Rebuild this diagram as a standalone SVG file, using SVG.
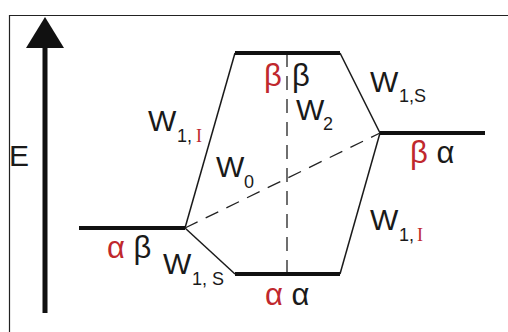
<svg xmlns="http://www.w3.org/2000/svg" width="508" height="332" viewBox="0 0 508 332">
<style>
text{font-family:"Liberation Sans",Arial,sans-serif;fill:#1a1a1a}
.big{font-size:30px}
.sub{font-size:18px}
.gr{font-size:31px}
.red{fill:#c0282d}
.roman{font-family:"Liberation Serif","Times New Roman",serif;font-size:18px;fill:#c0282d}
.level{stroke:#111;stroke-width:4;fill:none}
.thin{stroke:#1a1a1a;stroke-width:1.5;fill:none}
.dash{stroke:#222;stroke-width:1.3;fill:none;stroke-dasharray:14 9}
</style>
<rect width="508" height="332" fill="#fff"/>
<path d="M9.5 332 V15.5 H508" stroke="#222" stroke-width="1.2" fill="none"/>
<g id="axis">
<rect x="42.5" y="46" width="5" height="267" fill="#111"/>
<polygon points="45,17 26,48 64,48" fill="#111"/>
<text class="big" x="9" y="166">E</text>
</g>
<g id="connectors">
<line class="thin" x1="185" y1="228" x2="235" y2="53"/>
<line class="thin" x1="185" y1="228" x2="235" y2="274"/>
<line class="thin" x1="340" y1="53" x2="380" y2="133"/>
<line class="thin" x1="380" y1="133" x2="340" y2="274"/>
<line class="dash" x1="185" y1="228" x2="380" y2="133"/>
<line class="dash" x1="287" y1="53" x2="287" y2="274"/>
<text class="big" x="148" y="131">W</text><text class="sub" x="177" y="142">1,</text><text class="roman" x="196" y="142">I</text>
<text class="big" x="216" y="177">W</text><text class="sub" x="244" y="188">0</text>
<text class="big" x="296" y="120">W</text><text class="sub" x="323" y="130">2</text>
<text class="big" x="370" y="92">W</text><text class="sub" x="399" y="102">1,S</text>
<text class="big" x="370" y="230">W</text><text class="sub" x="399" y="241">1,</text><text class="roman" x="417" y="241">I</text>
<text class="big" x="163" y="274">W</text><text class="sub" x="192" y="285">1, S</text>
</g>
<g id="level-ab">
<line class="level" x1="79" y1="228" x2="185" y2="228"/>
<text class="gr" x="107" y="258"><tspan class="red">α</tspan> β</text>
</g>
<g id="level-aa">
<line class="level" x1="235" y1="274" x2="340" y2="274"/>
<text class="gr" x="265" y="305"><tspan class="red">α</tspan> α</text>
</g>
<g id="level-bb">
<line class="level" x1="235" y1="53" x2="340" y2="53"/>
<text class="gr red" x="264" y="86">β</text><text class="gr" x="292" y="86">β</text>
</g>
<g id="level-ba">
<line class="level" x1="380" y1="133" x2="485" y2="133"/>
<text class="gr" x="410" y="163"><tspan class="red">β</tspan> α</text>
</g>
</svg>
